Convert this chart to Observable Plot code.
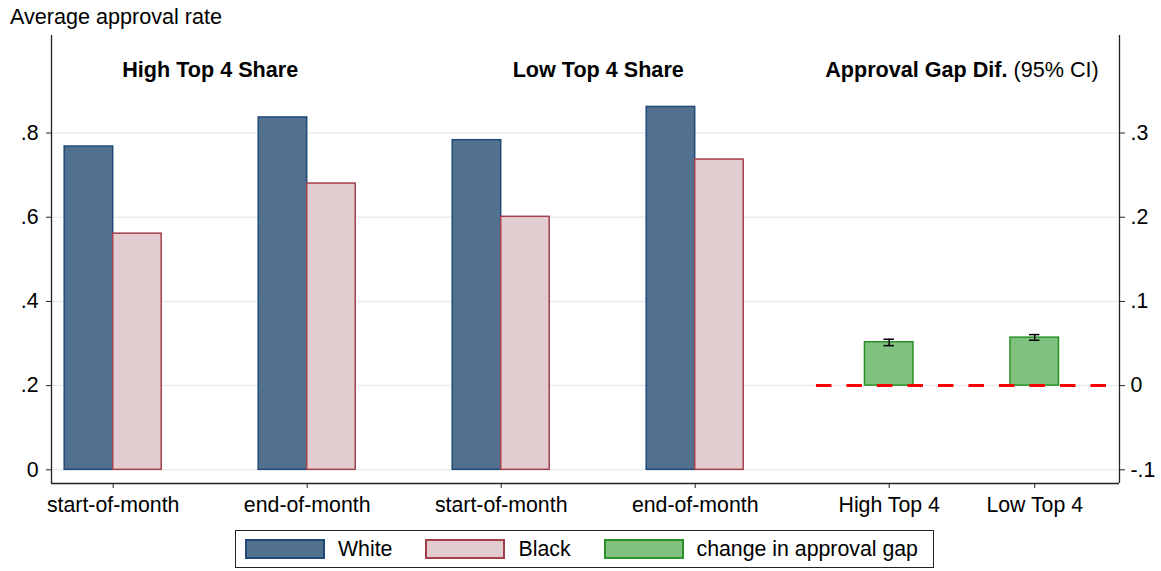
<!DOCTYPE html>
<html><head><meta charset="utf-8">
<script src="https://cdn.jsdelivr.net/npm/d3@7"></script>
<script src="https://cdn.jsdelivr.net/npm/@observablehq/plot@0.6"></script>
<style>
body{margin:0;background:#fff;font-family:"Liberation Sans",Arial,sans-serif;}
#wrap{position:relative;width:1161px;height:571px;overflow:hidden;background:#fff}
#chart{position:absolute;left:0;top:0}
#ytitle{position:absolute;left:10px;top:6px;font-size:21.6px;line-height:1;color:#000;white-space:nowrap}
#legend{position:absolute;left:235px;top:530px;width:699px;height:38px;border:1px solid #222;display:flex;align-items:center;box-sizing:border-box;padding-left:9px;font-size:21.3px;color:#000}
.sw{width:80px;height:20px;box-sizing:border-box;border:2px solid;margin-right:13px;flex:none}
.lt{margin-right:33px;white-space:nowrap}
</style></head>
<body><div id="wrap"><div id="chart"></div><div id="ytitle">Average approval rate</div><div id="legend"></div></div>
<script>
// ---- data ----
const periods = ["start-of-month", "end-of-month", "start-of-month", "end-of-month"];
const periodSlot = [1, 2, 3, 4];
const whiteRate = [0.768, 0.837, 0.783, 0.862];
const blackRate = [0.561, 0.680, 0.601, 0.737];

const gapGroups = ["High Top 4", "Low Top 4"];
const gapSlot = [5, 5.75];
const gapChange = [0.0515, 0.0570];
const gapLow = [0.0475, 0.0539];
const gapHigh = [0.0551, 0.0606];

const panelTitles = ["High Top 4 Share", "Low Top 4 Share", "Approval Gap Dif. (95% CI)"];
const leftTicks = [0, 0.2, 0.4, 0.6, 0.8];
const rightTicks = [-0.1, 0, 0.1, 0.2, 0.3];
const seriesNames = ["White", "Black", "change in approval gap"];

// ---- styles ----
const colWhite = {fill: "#52718f", stroke: "#1f4a78"};
const colBlack = {fill: "#e3ccd0", stroke: "#a3404c"};
const colGap = {fill: "#80c17f", stroke: "#2a9128"};

// secondary (right) axis maps onto left axis: left = 2*right + 0.2
const toLeft = r => 2 * r + 0.2;
const fmt = v => {
  const s = String(+v.toFixed(3));
  return s.replace(/^0\./, ".").replace(/^-0\./, "-.");
};

const barW = 0.25;
const xDomain = [0.682, 6.187];
const yDomain = [-0.0325, 1.0317];

const periodData = periods.map((p, i) => ({label: p, slot: periodSlot[i], white: whiteRate[i], black: blackRate[i]}));
const gapData = gapGroups.map((g, i) => ({label: g, slot: gapSlot[i], v: gapChange[i], lo: gapLow[i], hi: gapHigh[i]}));
const labelBySlot = new Map([...periodData, ...gapData].map(d => [d.slot, d.label]));
const titleData = [
  {text: panelTitles[0], x: (periodSlot[0] + periodSlot[1]) / 2},
  {text: panelTitles[1], x: (periodSlot[2] + periodSlot[3]) / 2},
  {text: panelTitles[2], x: (gapSlot[0] + gapSlot[1]) / 2}
];
const capHalf = 0.027;
const lineExt = 0.375;

const chart = Plot.plot({
  width: 1161,
  height: 525,
  marginTop: 35,
  marginBottom: 42,
  marginLeft: 51,
  marginRight: 42,
  style: {fontFamily: "Liberation Sans, Arial, sans-serif", fontSize: "21px", background: "#fff", color: "#000"},
  x: {type: "linear", domain: xDomain},
  y: {type: "linear", domain: yDomain},
  marks: [
    Plot.gridY(leftTicks, {stroke: "#e4edf0", strokeOpacity: 1, strokeWidth: 1.5}),
    Plot.rect(periodData, {x1: d => d.slot - barW, x2: d => d.slot, y1: 0, y2: "white", ...colWhite, strokeWidth: 1.5}),
    Plot.rect(periodData, {x1: d => d.slot, x2: d => d.slot + barW, y1: 0, y2: "black", ...colBlack, strokeWidth: 1.5}),
    Plot.rect(gapData, {x1: d => d.slot - barW / 2, x2: d => d.slot + barW / 2, y1: toLeft(0), y2: d => toLeft(d.v), ...colGap, strokeWidth: 1.5}),
    Plot.ruleY([toLeft(0)], {x1: gapSlot[0] - lineExt, x2: gapSlot[1] + lineExt, stroke: "#ff0000", strokeWidth: 3, strokeDasharray: "15.5,15"}),
    Plot.ruleX(gapData, {x: "slot", y1: d => toLeft(d.lo), y2: d => toLeft(d.hi), stroke: "#000", strokeWidth: 1.5}),
    Plot.ruleY(gapData, {x1: d => d.slot - capHalf, x2: d => d.slot + capHalf, y: d => toLeft(d.lo), stroke: "#000", strokeWidth: 1.5}),
    Plot.ruleY(gapData, {x1: d => d.slot - capHalf, x2: d => d.slot + capHalf, y: d => toLeft(d.hi), stroke: "#000", strokeWidth: 1.5}),
    Plot.ruleX([xDomain[0]], {stroke: "#222", strokeWidth: 1.3}),
    Plot.ruleX([xDomain[1]], {stroke: "#222", strokeWidth: 1.3}),
    Plot.ruleY([yDomain[0]], {stroke: "#222", strokeWidth: 1.3}),
    Plot.axisY(leftTicks, {anchor: "left", tickFormat: fmt, tickSize: 5, tickPadding: 8, fontSize: 21.3, label: null, stroke: "#222"}),
    Plot.axisY(rightTicks.map(toLeft), {anchor: "right", tickFormat: d => fmt((d - 0.2) / 2), tickSize: 5, tickPadding: 6, fontSize: 21.3, label: null, stroke: "#222"}),
    Plot.axisX([...periodSlot, ...gapSlot], {anchor: "bottom", tickFormat: d => labelBySlot.get(d), tickSize: 5, tickPadding: 8, fontSize: 21.3, label: null, stroke: "#222"}),
    Plot.text(titleData, {x: "x", text: "text", frameAnchor: "top", lineAnchor: "middle", dy: 35, fontSize: 21.6, fontWeight: "bold", fill: "#000"})
  ]
});
document.getElementById("chart").appendChild(chart);

// mixed-weight third title
chart.querySelectorAll("text").forEach(t => {
  if (t.textContent === panelTitles[2]) {
    const cut = panelTitles[2].indexOf(" (");
    t.textContent = "";
    const a = document.createElementNS("http://www.w3.org/2000/svg", "tspan");
    a.setAttribute("font-weight", "bold");
    a.textContent = panelTitles[2].slice(0, cut);
    const b = document.createElementNS("http://www.w3.org/2000/svg", "tspan");
    b.setAttribute("font-weight", "normal");
    b.textContent = panelTitles[2].slice(cut);
    t.appendChild(a); t.appendChild(b);
  }
});

// legend
const legend = document.getElementById("legend");
[colWhite, colBlack, colGap].forEach((c, i) => {
  const sw = document.createElement("div");
  sw.className = "sw";
  sw.style.background = c.fill;
  sw.style.borderColor = c.stroke;
  const tx = document.createElement("div");
  tx.className = "lt";
  tx.textContent = seriesNames[i];
  legend.appendChild(sw); legend.appendChild(tx);
});
</script>
</body></html>
